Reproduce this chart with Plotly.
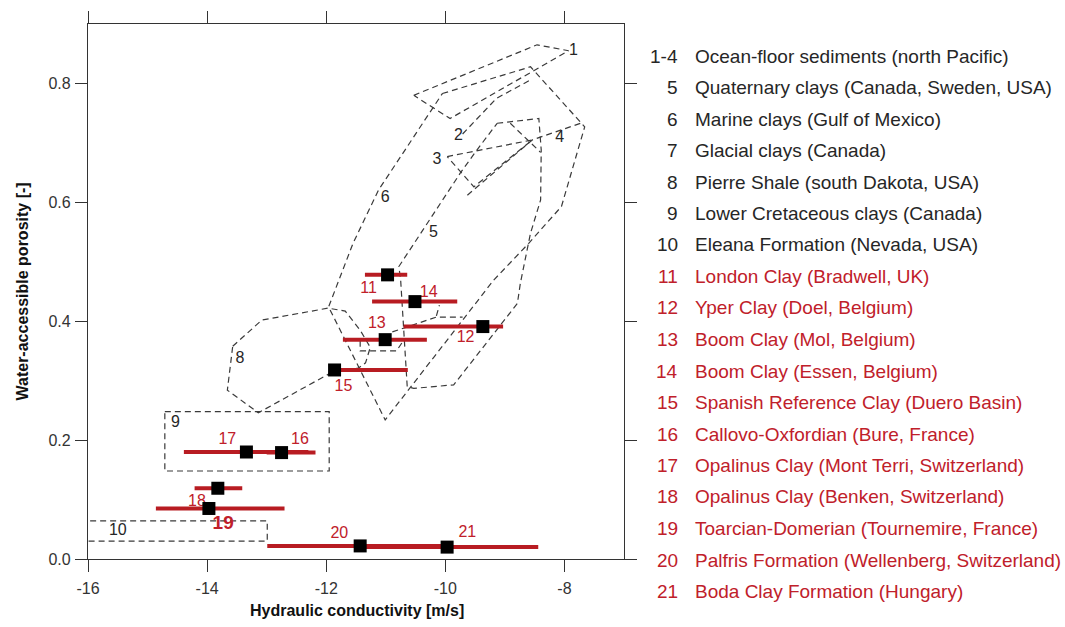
import plotly.graph_objects as go

FONT = "Liberation Sans, Arial, sans-serif"
RED_TXT = "#c0202a"
RED_BAR = "#b81c22"
DARK = "#262626"

# ---- measured clays (log10 K [m/s], porosity) ----
ids = ["11", "12", "13", "14", "15", "16", "17", "18", "19", "20", "21"]
k_center = [-10.97, -9.37, -11.01, -10.51, -11.86, -12.75, -13.34, -13.82, -13.97, -11.43, -9.97]
k_low = [-11.35, -10.70, -11.72, -11.23, -11.86, -13.00, -14.39, -14.21, -14.86, -12.99, -11.50]
k_high = [-10.64, -9.03, -10.31, -9.80, -10.63, -12.18, -12.30, -13.41, -12.70, -10.00, -8.44]
porosity = [0.478, 0.391, 0.369, 0.433, 0.318, 0.179, 0.180, 0.119, 0.085, 0.022, 0.020]
label_k = [-11.29, -9.66, -11.15, -10.28, -11.71, -12.44, -13.66, -14.17, -13.73, -11.78, -9.63]
label_phi = [0.454, 0.371, 0.396, 0.447, 0.290, 0.200, 0.200, 0.096, 0.059, 0.042, 0.044]

# ---- literature fields (dashed outlines) ----
outlines = [
    ([-10.53, -8.46, -7.93, -9.92, -10.53], [0.780, 0.865, 0.855, 0.741, 0.780]),
    ([-9.71, -9.14, -8.55], [0.715, 0.775, 0.807]),
    ([-9.97, -8.54, -9.52, -9.97], [0.677, 0.705, 0.626, 0.677]),
    ([-9.63, -8.54, -7.73], [0.612, 0.705, 0.733]),
    ([-8.91, -8.40], [0.733, 0.684]),
    ([-9.13, -8.43, -8.39, -8.40, -8.57, -8.74, -8.79, -9.86, -10.53, -10.64, -10.75, -10.78, -9.75, -9.47, -9.13],
     [0.733, 0.741, 0.688, 0.604, 0.548, 0.464, 0.430, 0.293, 0.287, 0.290, 0.469, 0.492, 0.649, 0.688, 0.733]),
    ([-10.05, -8.57, -7.66, -8.05, -8.60, -9.19, -11.01, -11.96, -11.55, -11.12, -10.75, -10.05],
     [0.783, 0.828, 0.727, 0.593, 0.531, 0.469, 0.234, 0.424, 0.531, 0.621, 0.677, 0.783]),
    ([-11.43, -11.43, -10.82, -10.70], [0.367, 0.350, 0.350, 0.368]),
    ([-10.89, -10.15, -9.71], [0.382, 0.407, 0.407]),
    ([-10.15, -10.10], [0.409, 0.427]),
    ([-13.57, -13.08, -11.97, -11.68, -11.43, -11.26, -11.34, -11.46, -11.85, -13.14, -13.66, -13.57],
     [0.358, 0.402, 0.422, 0.417, 0.385, 0.356, 0.330, 0.321, 0.317, 0.246, 0.284, 0.358]),
    ([-14.71, -11.95, -11.95, -14.71, -14.71], [0.248, 0.248, 0.148, 0.148, 0.248]),
    ([-16.3, -12.99, -12.99, -16.3], [0.064, 0.064, 0.030, 0.030]),
]
field_labels = ["1", "2", "3", "4", "5", "6", "8", "9", "10"]
field_label_k = [-7.85, -9.78, -10.14, -8.08, -10.20, -11.01, -13.45, -14.53, -15.50]
field_label_phi = [0.855, 0.711, 0.671, 0.708, 0.548, 0.607, 0.336, 0.228, 0.047]

# ---- key ----
key_nums = ["1-4", "5", "6", "7", "8", "9", "10", "11", "12", "13", "14", "15",
            "16", "17", "18", "19", "20", "21"]
key_texts = [
    "Ocean-floor sediments (north Pacific)",
    "Quaternary clays (Canada, Sweden, USA)",
    "Marine clays (Gulf of Mexico)",
    "Glacial clays (Canada)",
    "Pierre Shale (south Dakota, USA)",
    "Lower Cretaceous clays (Canada)",
    "Eleana Formation (Nevada, USA)",
    "London Clay (Bradwell, UK)",
    "Yper Clay (Doel, Belgium)",
    "Boom Clay (Mol, Belgium)",
    "Boom Clay (Essen, Belgium)",
    "Spanish Reference Clay (Duero Basin)",
    "Callovo-Oxfordian (Bure, France)",
    "Opalinus Clay (Mont Terri, Switzerland)",
    "Opalinus Clay (Benken, Switzerland)",
    "Toarcian-Domerian (Tournemire, France)",
    "Palfris Formation (Wellenberg, Switzerland)",
    "Boda Clay Formation (Hungary)",
]

x_ticks = [-16, -14, -12, -10, -8]
y_ticks = [0.0, 0.2, 0.4, 0.6, 0.8]

fig = go.Figure()

for kx, py in outlines:
    fig.add_trace(go.Scatter(x=kx, y=py, mode="lines",
                             line=dict(color="#3a3a3a", width=1.2, dash="6px,4px"),
                             hoverinfo="skip", showlegend=False))

fig.add_trace(go.Scatter(x=field_label_k, y=field_label_phi, mode="text", text=field_labels,
                         textfont=dict(family=FONT, size=16, color=DARK),
                         hoverinfo="skip", showlegend=False))

label_text = ["<b>%s</b>" % s if s == "19" else s for s in ids]
label_size = [19 if s == "19" else 16 for s in ids]
fig.add_trace(go.Scatter(x=label_k, y=label_phi, mode="text", text=label_text,
                         textfont=dict(family=FONT, size=label_size, color=RED_TXT),
                         hoverinfo="skip", showlegend=False))

fig.add_trace(go.Scatter(
    x=k_center, y=porosity, mode="markers",
    marker=dict(symbol="square", size=13, color="black", line=dict(width=0)),
    error_x=dict(type="data", symmetric=False,
                 array=[h - c for h, c in zip(k_high, k_center)],
                 arrayminus=[c - l for c, l in zip(k_center, k_low)],
                 color=RED_BAR, thickness=4, width=0),
    showlegend=False))

annotations = []
row0 = 56.0
dy = 31.5
for i, (n, t) in enumerate(zip(key_nums, key_texts)):
    col = DARK if i < 7 else RED_TXT
    ypx = row0 + i * dy
    yp = (559 - ypx) / 535
    annotations.append(dict(xref="paper", yref="paper", x=(680 - 88) / 536, y=yp,
                            text=n, showarrow=False, xanchor="right", yanchor="middle",
                            font=dict(family=FONT, size=19, color=col)))
    annotations.append(dict(xref="paper", yref="paper", x=(693 - 88) / 536, y=yp,
                            text=t, showarrow=False, xanchor="left", yanchor="middle",
                            font=dict(family=FONT, size=19, color=col)))

annotations.append(dict(xref="paper", yref="paper", x=(357 - 88) / 536, y=(559 - 610) / 535,
                        text="<b>Hydraulic conductivity [m/s]</b>", showarrow=False,
                        xanchor="center", yanchor="middle",
                        font=dict(family=FONT, size=16, color="#111")))
annotations.append(dict(xref="paper", yref="paper", x=(22 - 88) / 536, y=0.5,
                        text="<b>Water-accessible porosity [-]</b>", showarrow=False,
                        textangle=-90, xanchor="center", yanchor="middle",
                        font=dict(family=FONT, size=16, color="#111")))

axis_common = dict(showline=True, linecolor="#333", linewidth=1.2, mirror="allticks",
                   ticks="outside", ticklen=12, tickwidth=1.2, tickcolor="#333",
                   showgrid=False, zeroline=False,
                   tickfont=dict(family=FONT, size=16, color="#333"))

fig.update_layout(
    width=1065, height=627,
    margin=dict(l=88, r=441, t=24, b=68, autoexpand=False),
    paper_bgcolor="white", plot_bgcolor="white",
    xaxis=dict(range=[-16, -7], tickvals=x_ticks, ticktext=[str(v) for v in x_ticks],
               ticklabelstandoff=3, **axis_common),
    yaxis=dict(range=[0, 0.9], tickvals=y_ticks, ticktext=["%.1f" % v for v in y_ticks],
               ticklabelstandoff=1, **axis_common),
    annotations=annotations,
    showlegend=False,
)

fig.write_html("out.html")
